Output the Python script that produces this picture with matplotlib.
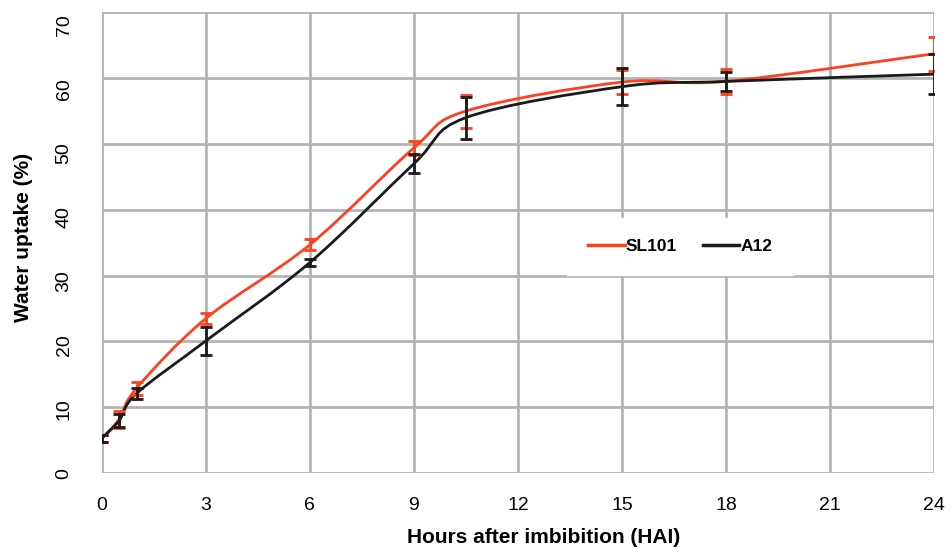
import numpy as np
import matplotlib.pyplot as plt
import matplotlib.transforms as mtransforms
from matplotlib.path import Path
from matplotlib.patches import PathPatch

hours = [0, 0.5, 1, 3, 6, 9, 10.5, 15, 18, 24]
sl101 = [5.3, 8.2, 12.9, 23.5, 34.7, 49.4, 55.0, 59.4, 59.5, 63.7]
sl101_err = [0.5, 1.3, 1.0, 0.8, 0.8, 1.1, 2.5, 1.8, 1.9, 2.6]
a12 = [5.3, 8.0, 12.1, 20.1, 32.0, 47.0, 54.0, 58.7, 59.5, 60.6]
a12_err = [0.5, 1.0, 0.8, 2.1, 0.5, 1.4, 3.2, 2.8, 1.5, 3.0]

x_ticks = [0, 3, 6, 9, 12, 15, 18, 21, 24]
y_ticks = [0, 10, 20, 30, 40, 50, 60, 70]

plt.rcParams['font.family'] = ['Liberation Sans', 'DejaVu Sans']


def smooth_path(x, y, tension=1 / 6):
    # Catmull-Rom style bezier, like a spreadsheet "smoothed line"
    x = np.asarray(x, float)
    y = np.asarray(y, float)
    verts = [(x[0], y[0])]
    codes = [Path.MOVETO]
    n = len(x)
    for i in range(n - 1):
        p0 = i - 1 if i > 0 else i
        p3 = i + 2 if i + 2 < n else i + 1
        c1 = (x[i] + (x[i + 1] - x[p0]) * tension, y[i] + (y[i + 1] - y[p0]) * tension)
        c2 = (x[i + 1] - (x[p3] - x[i]) * tension, y[i + 1] - (y[p3] - y[i]) * tension)
        verts += [c1, c2, (x[i + 1], y[i + 1])]
        codes += [Path.CURVE4] * 3
    return Path(verts, codes)


fig = plt.figure(figsize=(9.52, 5.58), dpi=100)
ax = fig.add_axes([0.107, 0.152, 0.874, 0.826])

series = [("SL101", sl101, sl101_err, "#ff4020"), ("A12", a12, a12_err, "#1a1a1a")]
for name, vals, err, col in series:
    ax.add_patch(PathPatch(smooth_path(hours, vals), facecolor="none", edgecolor=col,
                           lw=2.0, zorder=3))
    ax.errorbar(hours, vals, yerr=err, fmt="none", ecolor=col, elinewidth=2,
                capsize=4, capthick=2, zorder=4)
    ax.plot([], [], color=col, lw=2.5, label=name)

ax.set_xlim(0, 24)
ax.set_ylim(0, 70)
ax.set_xticks(x_ticks)
ax.set_yticks(y_ticks)
ax.grid(True, color="#b4b4b4", lw=2)
ax.set_axisbelow(True)
for s in ax.spines.values():
    s.set_visible(False)
ax.tick_params(length=0, labelsize=14)
ax.tick_params(axis="x", pad=17)
ax.tick_params(axis="y", pad=21)

# the original's rotated y labels drift slightly below their gridlines going up
for tick, v in zip(ax.yaxis.get_major_ticks(), y_ticks):
    lbl = tick.label1
    lbl.set_rotation(90)
    lbl.set_va("center")
    shift = mtransforms.ScaledTranslation(0, -(v / 70) * 9 / 72, fig.dpi_scale_trans)
    lbl.set_transform(lbl.get_transform() + shift)

ax.set_xlabel("Hours after imbibition (HAI)", fontsize=15, fontweight="bold")
ax.xaxis.set_label_coords(0.531, -0.118)
ax.set_ylabel("Water uptake (%)", fontsize=15, fontweight="bold")
ax.yaxis.set_label_coords(-0.083, 0.512)

leg = ax.legend(loc="center", bbox_to_anchor=(0.695, 0.491), ncol=2, frameon=True,
                prop={"weight": "bold", "size": 12.5}, handlelength=2.1,
                handletextpad=0.05, columnspacing=1.5, borderpad=1.2)
leg.get_frame().set_facecolor("white")
leg.get_frame().set_edgecolor("white")
leg.get_frame().set_alpha(1)
leg.get_frame().set_boxstyle("square", pad=0)
leg.set_zorder(5)

fig.savefig("out.png", dpi=100)
